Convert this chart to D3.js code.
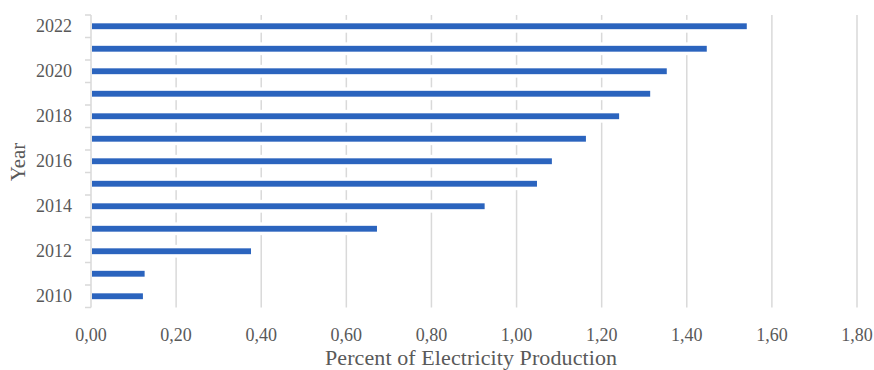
<!DOCTYPE html>
<html><head><meta charset="utf-8">
<script src="https://cdn.jsdelivr.net/npm/d3@7"></script>
<style>body{margin:0;background:#fff}</style>
</head><body><svg id="c" width="874" height="370"></svg>
<script>
const years = ["2010","2011","2012","2013","2014","2015","2016","2017","2018","2019","2020","2021","2022"];
const values = [0.122,0.126,0.376,0.672,0.925,1.048,1.083,1.163,1.241,1.314,1.353,1.447,1.541];
const xTicks = [0,0.2,0.4,0.6,0.8,1.0,1.2,1.4,1.6,1.8];
const yLabelYears = ["2010","2012","2014","2016","2018","2020","2022"];
const xTitle = "Percent of Electricity Production";
const yTitle = "Year";

const svg = d3.select("#c");
const m = {l:91, r:857, t:15, b:307.5};
const x = d3.scaleLinear().domain([0,1.8]).range([m.l,m.r]);
const y = d3.scaleBand().domain(years.slice().reverse()).range([m.t,m.b]).paddingInner(0.74).paddingOuter(0.37);
const yb = d3.scaleBand().domain(years.slice().reverse()).range([m.t,m.b]);
const font = "'Liberation Serif', 'DejaVu Serif', serif";
const grey = "#595959";
const lineC = "#d9d9d9";

// gridlines
svg.append("g").selectAll("line").data(xTicks.slice(1)).join("line")
  .attr("x1",d=>x(d)).attr("x2",d=>x(d)).attr("y1",m.t).attr("y2",m.b)
  .attr("stroke",lineC).attr("stroke-width",1.5);

// x tick labels
svg.append("g").selectAll("text").data(xTicks).join("text")
  .attr("x",d=>x(d)).attr("y",340.5).attr("text-anchor","middle")
  .attr("font-family",font).attr("font-size",18).attr("fill",grey)
  .text(d=>d3.format(".2f")(d).replace(".",","));

// y axis line & ticks
svg.append("line").attr("x1",m.l).attr("x2",m.l).attr("y1",m.t).attr("y2",m.b)
  .attr("stroke",lineC).attr("stroke-width",1.5);
const bounds = years.map(d=>yb(d)).concat([m.b]);
svg.append("g").selectAll("line").data(bounds).join("line")
  .attr("x1",m.l-6).attr("x2",m.l).attr("y1",d=>d).attr("y2",d=>d)
  .attr("stroke",lineC).attr("stroke-width",1.5);

// bars: white halo then blue bar
const bars = svg.append("g");
bars.selectAll("rect.h").data(years).join("rect").attr("class","h")
  .attr("x",m.l+1).attr("y",d=>y(d)-3.5).attr("height",y.bandwidth()+7)
  .attr("width",(d,i)=>x(values[i])-m.l).attr("fill","#fff");
bars.selectAll("rect.b").data(years).join("rect").attr("class","b")
  .attr("x",m.l+1).attr("y",d=>y(d)).attr("height",y.bandwidth())
  .attr("width",(d,i)=>x(values[i])-m.l-1).attr("fill","#2b64be");

// y labels
svg.append("g").selectAll("text").data(yLabelYears).join("text")
  .attr("x",72).attr("y",d=>y(d)+y.bandwidth()/2).attr("dy","0.3em").attr("text-anchor","end")
  .attr("font-family",font).attr("font-size",18).attr("fill",grey).text(d=>d);

// titles
svg.append("text").attr("x",471).attr("y",364.5).attr("text-anchor","middle")
  .attr("font-family",font).attr("font-size",22).attr("fill",grey)
  .attr("textLength",292).attr("lengthAdjust","spacing").text(xTitle);
svg.append("text").attr("transform","translate(25,162) rotate(-90)").attr("text-anchor","middle")
  .attr("font-family",font).attr("font-size",21).attr("fill",grey).text(yTitle);
</script></body></html>
